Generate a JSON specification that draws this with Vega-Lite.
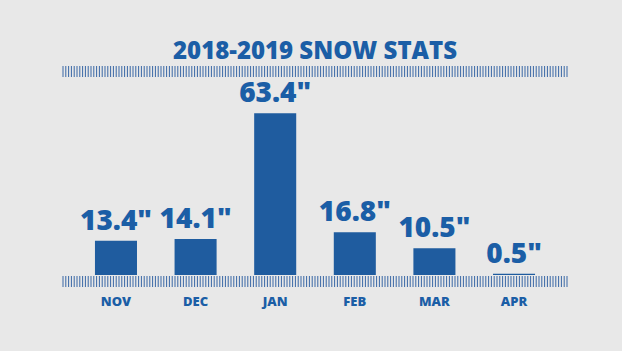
{
  "$schema": "https://vega.github.io/schema/vega-lite/v6.json",
  "width": 506,
  "height": 204,
  "autosize": {"type": "none"},
  "padding": {"left": 62, "right": 54, "top": 71, "bottom": 76},
  "background": "#e8e8e8",
  "config": {"view": {"stroke": null}, "font": "Open Sans"},
  "title": {
    "text": "2018-2019 SNOW STATS",
    "fontSize": 24,
    "fontWeight": 800,
    "color": "#1b5ea6",
    "anchor": "middle",
    "offset": 7,
    "font": "Open Sans"
  },
  "data": {
    "values": [
      {"month": "NOV", "snow": 13.4, "label": "13.4\""},
      {"month": "DEC", "snow": 14.1, "label": "14.1\""},
      {"month": "JAN", "snow": 63.4, "label": "63.4\""},
      {"month": "FEB", "snow": 16.8, "label": "16.8\""},
      {"month": "MAR", "snow": 10.5, "label": "10.5\""},
      {"month": "APR", "snow": 0.5, "label": "0.5\""}
    ]
  },
  "layer": [
    {
      "mark": {"type": "bar", "color": "#1f5c9f"},
      "encoding": {
        "x": {
          "field": "month",
          "type": "nominal",
          "sort": null,
          "scale": {"paddingInner": 0.472, "paddingOuter": 0.414},
          "axis": {
            "title": null,
            "orient": "bottom",
            "labelAngle": 0,
            "labelFont": "Open Sans",
            "labelFontSize": 13,
            "labelFontWeight": 800,
            "labelColor": "#1b5ea6",
            "ticks": false,
            "offset": 6,
            "labelPadding": 14,
            "domainColor": "#3a68a6",
            "domainWidth": 11,
            "domainDash": [1, 1.8],
            "grid": false
          }
        },
        "y": {
          "field": "snow",
          "type": "quantitative",
          "scale": {"domain": [0, 79.8]},
          "axis": null
        }
      }
    },
    {
      "mark": {
        "type": "text",
        "baseline": "bottom",
        "dy": -5,
        "fontSize": 28,
        "fontWeight": 800,
        "font": "Open Sans",
        "color": "#1b5ea6"
      },
      "encoding": {
        "x": {
          "field": "month",
          "type": "nominal",
          "sort": null,
          "axis": {
            "title": null,
            "orient": "top",
            "labels": false,
            "ticks": false,
            "domainColor": "#3a68a6",
            "domainWidth": 11,
            "domainDash": [1, 1.8],
            "grid": false
          }
        },
        "y": {"field": "snow", "type": "quantitative"},
        "text": {"field": "label"}
      }
    }
  ],
  "resolve": {"axis": {"x": "independent"}}
}
